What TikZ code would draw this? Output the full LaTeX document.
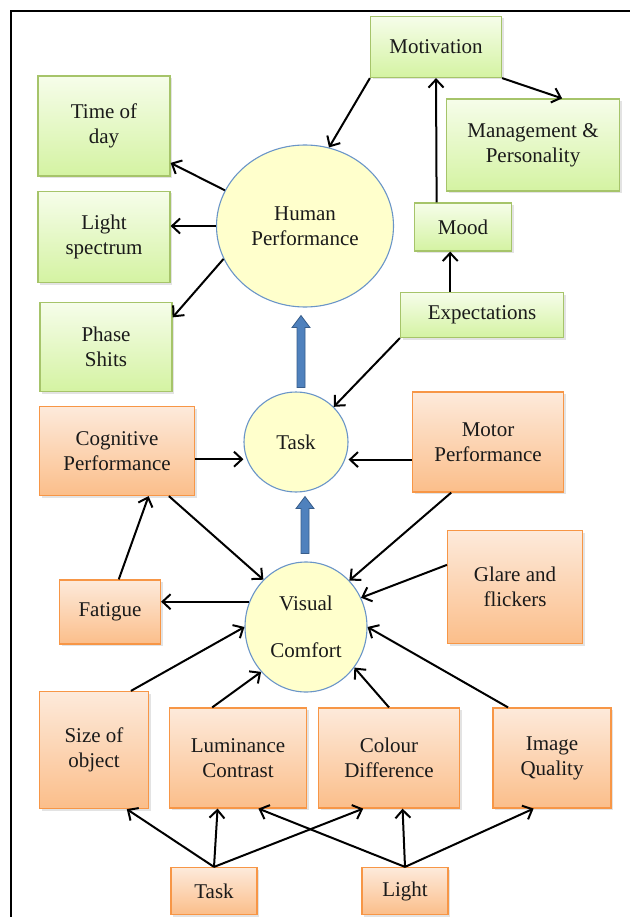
\documentclass[tikz,border=0pt]{standalone}
\usepackage{fontspec}
\setmainfont{Liberation Serif}
\newfontfamily\diagfont{Liberation Serif}
\usetikzlibrary{arrows.meta,calc,shapes.geometric,shadows}
\definecolor{Ink}{HTML}{1A1A1A}
\definecolor{LeafTop}{HTML}{F6FDEA}
\definecolor{LeafBottom}{HTML}{D4F3A2}
\definecolor{LeafLine}{HTML}{A6C46A}
\definecolor{PeachTop}{HTML}{FDEADB}
\definecolor{PeachBottom}{HTML}{FBBE8A}
\definecolor{PeachLine}{HTML}{F79646}
\definecolor{Cream}{HTML}{FFFFCC}
\definecolor{RingLine}{HTML}{6A95C8}
\definecolor{BlueFill}{HTML}{4F81BD}
\definecolor{BlueEdge}{HTML}{385D8A}
\tikzset{
  txt/.style={align=center,font=\diagfont\fontsize{21}{25}\selectfont,text=Ink,inner sep=0pt},
  sz/.style 2 args={minimum width=#1pt,minimum height=#2pt},
  boxshadow/.style={drop shadow={shadow xshift=2pt,shadow yshift=-2pt,opacity=0.22}},
  leaf/.style={txt,draw=LeafLine,top color=LeafTop,bottom color=LeafBottom,line width=1.2pt,boxshadow},
  peach/.style={txt,draw=PeachLine,top color=PeachTop,bottom color=PeachBottom,line width=1.2pt,boxshadow},
  hub/.style={txt,ellipse,draw=RingLine,fill=Cream,line width=1.1pt},
  arr/.style={-{Straight Barb[length=8pt,width=15pt]},line width=2pt,draw=black},
  fatarrow/.style={draw=BlueEdge,fill=BlueFill,line width=0.8pt,
    to path={($(\tikztostart)+(-4,0)$) -- ($(\tikztotarget)+(-4,12)$) -- ($(\tikztotarget)+(-9,12)$)
      -- (\tikztotarget) -- ($(\tikztotarget)+(9,12)$) -- ($(\tikztotarget)+(4,12)$)
      -- ($(\tikztostart)+(4,0)$) -- cycle}}
}

\begin{document}
\begin{tikzpicture}[x=1pt,y=-1pt]
  \useasboundingbox (0,0) rectangle (630,917);
  \draw[line width=1.5pt] (11,917) -- (11,11) -- (630,11);

  % top part
  \node[leaf,sz={131}{61}] (mot) at (436,47) {Motivation};
  \node[leaf,sz={173}{92}] (mgmt) at (533,145) {Management \&\\Personality};
  \node[leaf,sz={132}{100}] (tod) at (104,126) {Time of\\day};
  \node[leaf,sz={132}{91}] (ls) at (104,237) {Light\\spectrum};
  \node[leaf,sz={132}{89}] (ps) at (106,347) {Phase\\Shits};
  \node[hub,sz={177}{162}] (hp) at (305,226) {Human\\Performance};
  \node[leaf,sz={97}{48}] (mood) at (463,227) {Mood};
  \node[leaf,sz={163}{45}] (exp) at (482,315) {Expectations};

  % middle part
  \node[hub,sz={104}{100}] (task) at (296,442) {Task};
  \node[peach,sz={155}{89}] (cog) at (117,451) {Cognitive\\Performance};
  \node[peach,sz={151}{100}] (motor) at (488,442) {Motor\\Performance};
  \node[peach,sz={135}{113}] (glare) at (515,587) {Glare and\\flickers};
  \node[hub,sz={122}{130}] (vc) at (306,627) {Visual\\[22pt]Comfort};
  \node[peach,sz={101}{64}] (fatg) at (110,612) {Fatigue};

  % bottom part
  \node[peach,sz={109}{117}] (size) at (94,750) {Size of\\object};
  \node[peach,sz={137}{100}] (lum) at (238,758) {Luminance\\Contrast};
  \node[peach,sz={141}{100}] (col) at (389,758) {Colour\\Difference};
  \node[peach,sz={118}{100}] (iq) at (552,758) {Image\\Quality};
  \node[peach,sz={86}{47}] (taskb) at (214,891) {Task};
  \node[peach,sz={86}{47}] (light) at (405,891) {Light};

  % links
  \draw[arr] (mot.south west) -- (hp.73);
  \draw[arr] (mood.137) -- (mot.south);
  \draw[arr] (mot.south east) -- (mgmt.58);
  \draw[arr] (hp.156) -- (tod.-29);
  \draw[arr] (hp.west) -- (hp.west -| ls.east);
  \draw[arr] (hp.202) -- (ps.24);
  \draw[arr] (exp.144) -- (exp.144 |- mood.south);
  \draw[arr] (exp.south west) -- (task.43);
  \draw[arr] (cog.-6) -- (cog.-6 -| task.west);
  \draw[arr] (motor.193) -- (motor.193 -| task.east);
  \draw[arr] (cog.-41) -- (vc.132);
  \draw[arr] (motor.234) -- (vc.47);
  \draw[arr] (fatg.75) -- (cog.-55);
  \draw[arr] (glare.162) -- (vc.28);
  \draw[arr] (vc.156) -- (vc.156 -| fatg.east);
  \draw[arr] (size.58) -- (vc.west);
  \draw[arr] (lum.117) -- (vc.225);
  \draw[arr] (col.north) -- (vc.-40);
  \draw[arr] (iq.131) -- (vc.east);
  \draw[arr] (taskb.north) -- (size.-61);
  \draw[arr] (taskb.north) -- (lum.-112);
  \draw[arr] (taskb.north) -- (col.-117);
  \draw[arr] (light.north) -- (lum.-68);
  \draw[arr] (light.north) -- (col.-75);
  \draw[arr] (light.north) -- (iq.-110);

  % fat blue arrows
  \coordinate (up1s) at ($(task.north)+(5,-4)$);
  \coordinate (up1e) at ($(hp.south)+(-4,8)$);
  \coordinate (up2s) at ($(vc.north)+(-1,-8)$);
  \coordinate (up2e) at ($(task.south)+(9,4)$);
  \path[fatarrow] (up1s) to (up1e);
  \path[fatarrow] (up2s) to (up2e);
\end{tikzpicture}
\end{document}
